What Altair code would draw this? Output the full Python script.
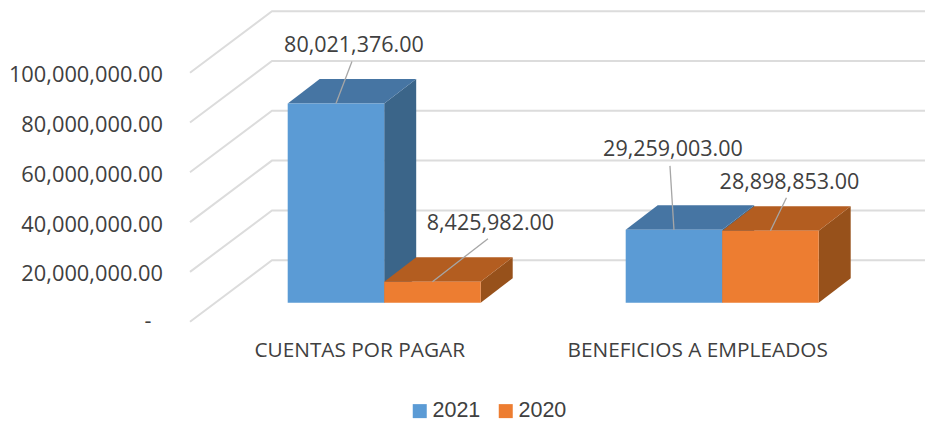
import altair as alt
import pandas as pd

# ---- chart values -------------------------------------------------------
categories = ["CUENTAS POR PAGAR", "BENEFICIOS A EMPLEADOS"]
series_names = ["2021", "2020"]
values_2021 = [80021376.0, 29259003.0]
values_2020 = [8425982.0, 28898853.0]
ticks = [0, 20000000, 40000000, 60000000, 80000000, 100000000]
zero_label = "-"
# ---- styles -------------------------------------------------------------
front_colors = ["#5b9bd5", "#ed7d31"]
top_colors = ["#4675a3", "#b35d20"]
side_colors = ["#3b6589", "#97511b"]
GRID = "#dcdcdc"
TEXT = "#404040"
FONT = "Open Sans"
FS = 21.5

# ---- oblique projection, in pixels per scale unit ------------------------
PX_X = 338.0          # pixels per category
PX_Y = 2.49 / 1e6     # pixels per currency unit
L, T, W, H = 172, 8, 753, 332   # plot rectangle inside the page
ORIGIN_X, ORIGIN_Y = 359.2, 321.7  # category 0 at value 0 on the front plane


def ux(px):
    return px / PX_X


def uy(px):
    return px / PX_Y


x_scale = alt.Scale(domain=[ux(L - ORIGIN_X), ux(L + W - ORIGIN_X)], nice=False, zero=False)
y_scale = alt.Scale(domain=[uy(ORIGIN_Y - T - H), uy(ORIGIN_Y - T)], nice=False, zero=False)

# walls: depth of the floor, and where the bars stand on it
WALL_DX, WALL_DY = ux(82), uy(61.5)
LEFT_X, RIGHT_X = ux(190 - ORIGIN_X), ux(L + W - ORIGIN_X)
BASE_DX, BASE_DY = ux(25), uy(19)
BAR_W = ux(96.5)
DEPTH_DX, DEPTH_DY = ux(32), uy(24.5)

x_axis = alt.Axis(
    values=[0, 1],
    domain=False,
    ticks=False,
    grid=False,
    title=None,
    labelExpr=f"datum.value < 0.5 ? '{categories[0]}' : '{categories[1]}'",
    labelFont=FONT,
    labelFontSize=20.8,
    labelColor=TEXT,
    labelPadding=0,
    labelLimit=400,
    labelOverlap=False,
    labelFlush=False,
)
y_axis = alt.Axis(
    values=ticks,
    domain=False,
    ticks=False,
    grid=False,
    title=None,
    labelExpr="datum.value === 0 ? '' : format(datum.value, ',.2f')",
    labelFont=FONT,
    labelFontSize=21.8,
    labelColor=TEXT,
    labelPadding=9.5,
    labelOffset=2,
    labelOverlap=False,
)
X = alt.X("x:Q", scale=x_scale, axis=x_axis)
Y = alt.Y("y:Q", scale=y_scale, axis=y_axis)

# gridlines: slanted along the side wall, level along the back wall
grid_rows = []
for t in ticks:
    grid_rows += [
        {"t": t, "x": LEFT_X, "y": t, "o": 0},
        {"t": t, "x": LEFT_X + WALL_DX, "y": t + WALL_DY, "o": 1},
        {"t": t, "x": RIGHT_X, "y": t + WALL_DY, "o": 2},
    ]
grid = alt.Chart(pd.DataFrame(grid_rows)).mark_line(color=GRID, strokeWidth=2).encode(
    x=X, y=Y, detail="t:N", order="o:Q"
)

layers = [grid]
label_rows, leader_rows = [], []
# label and leader offsets from the centre of each bar's front top edge, pixels
label_off = {(0, 0): (18, -59), (0, 1): (58, -60), (1, 0): (-1, -82), (1, 1): (19, -50)}
leader_off = {(0, 0): (16, -42), (0, 1): (55.5, -43), (1, 0): (-4, -64), (1, 1): (16, -33)}

for s, vals in enumerate([values_2021, values_2020]):
    side, top, front = [], [], []
    for c, v in enumerate(vals):
        x0 = c + BASE_DX - BAR_W + s * BAR_W
        x1 = x0 + BAR_W
        y0 = BASE_DY
        y1 = BASE_DY + v
        side += [
            {"c": c, "x": x1, "y": y1, "y2": y0},
            {"c": c, "x": x1 + DEPTH_DX, "y": y1 + DEPTH_DY, "y2": y0 + DEPTH_DY},
        ]
        top += [
            {"c": c, "y": y1, "x": x0, "x2": x1},
            {"c": c, "y": y1 + DEPTH_DY, "x": x0 + DEPTH_DX, "x2": x1 + DEPTH_DX},
        ]
        front.append({"serie": series_names[s], "x": x0, "x2": x1, "y": y0, "y2": y1})
        cx = (x0 + x1) / 2
        lx, ly = label_off[(c, s)]
        label_rows.append({"x": cx + ux(lx), "y": y1 - uy(ly), "t": f"{v:,.2f}"})
        ax, ay = leader_off[(c, s)]
        leader_rows += [
            {"k": f"{c}{s}", "x": cx, "y": y1},
            {"k": f"{c}{s}", "x": cx + ux(ax), "y": y1 - uy(ay)},
        ]
    layers.append(
        alt.Chart(pd.DataFrame(side))
        .mark_area(color=side_colors[s], orient="vertical")
        .encode(x=X, y=Y, y2="y2:Q", detail="c:N")
    )
    layers.append(
        alt.Chart(pd.DataFrame(top))
        .mark_area(color=top_colors[s], orient="horizontal")
        .encode(x=X, x2="x2:Q", y=Y, detail="c:N")
    )
    layers.append(
        alt.Chart(pd.DataFrame(front))
        .mark_bar()
        .encode(
            x=X,
            x2="x2:Q",
            y=Y,
            y2="y2:Q",
            color=alt.Color(
                "serie:N",
                scale=alt.Scale(domain=series_names, range=front_colors),
                legend=alt.Legend(
                    title=None,
                    orient="none",
                    direction="horizontal",
                    legendX=237,
                    legendY=392,
                    symbolType="square",
                    symbolSize=196,
                    symbolStrokeWidth=0,
                    symbolOpacity=1,
                    labelFont="Liberation Sans",
                    labelFontSize=21.5,
                    labelColor=TEXT,
                    columnPadding=14,
                    labelOffset=2,
                ),
            ),
        )
    )

layers.append(
    alt.Chart(pd.DataFrame(leader_rows))
    .mark_line(color="#a6a6a6", strokeWidth=1.3)
    .encode(x=X, y=Y, detail="k:N")
)
layers.append(
    alt.Chart(pd.DataFrame(label_rows))
    .mark_text(font=FONT, fontSize=FS, color=TEXT, align="center", baseline="middle", dy=2)
    .encode(x=X, y=Y, text="t:N")
)
# the accounting-format dash for zero stands away from the other tick labels
layers.append(
    alt.Chart(pd.DataFrame([{"x": ux(148 - ORIGIN_X), "y": ticks[0], "t": zero_label}]))
    .mark_text(font=FONT, fontSize=FS, color=TEXT, align="center", baseline="middle", clip=False)
    .encode(x=X, y=Y, text="t:N")
)

chart = (
    alt.layer(*layers)
    .properties(
        width=W,
        height=H,
        padding={"left": L - 8, "top": T - 8, "right": 0, "bottom": 421 - T - H},
        autosize=alt.AutoSizeParams(type="none"),
        background="white",
    )
    .configure_view(stroke=None)
)

chart.save("out.html", embed_options={"renderer": "svg", "actions": False})
